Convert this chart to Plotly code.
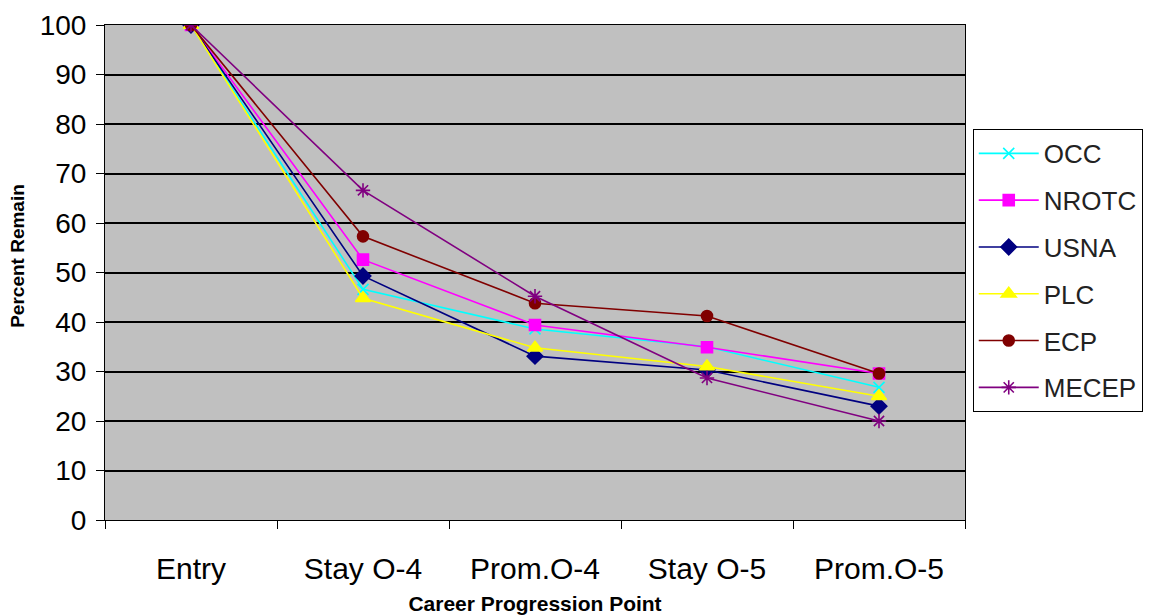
import plotly.graph_objects as go

categories = ["Entry", "Stay O-4", "Prom.O-4", "Stay O-5", "Prom.O-5"]
occ = [100, 46.6, 38.6, 35.0, 26.8]
nrotc = [100, 52.6, 39.4, 34.9, 29.6]
usna = [100, 49.3, 33.1, 30.3, 23.0]
plc = [100, 44.8, 34.8, 31.0, 25.0]
ecp = [100, 57.3, 43.8, 41.2, 29.6]
mecep = [100, 66.6, 45.2, 28.7, 20.0]

series = [
    ("OCC", occ, "#00FFFF", "x-thin-open", 11),
    ("NROTC", nrotc, "#FF00FF", "square", 11),
    ("USNA", usna, "#000080", "diamond", 12),
    ("PLC", plc, "#FFFF00", "triangle-up", 13),
    ("ECP", ecp, "#800000", "circle", 11),
    ("MECEP", mecep, "#800080", "asterisk-open", 12),
]

fig = go.Figure()
for name, vals, color, sym, size in series:
    fig.add_trace(go.Scatter(
        x=categories, y=vals, name=name, mode="lines+markers",
        legendgroup=name,
        line=dict(color=color, width=1.6),
        marker=dict(symbol=sym, size=size, color=color,
                    line=dict(color=color, width=1.6)),
    ))

fig.update_layout(
    width=1156, height=615,
    margin=dict(l=97, r=199, t=17, b=103, autoexpand=False),
    paper_bgcolor="white",
    plot_bgcolor="#C0C0C0",
    font=dict(family="Liberation Sans, Arial, sans-serif", color="black"),
    showlegend=True,
    legend=dict(
        x=1.009, y=0.79, xanchor="left", yanchor="top",
        bgcolor="white", bordercolor="black", borderwidth=1,
        font=dict(size=26, color="#222222"),
        tracegroupgap=10,
        itemwidth=60,
    ),
    xaxis=dict(
        type="category",
        range=[-0.5, 4.5],
        tickson="boundaries",
        ticks="outside", ticklen=8, tickcolor="black",
        showline=True, linecolor="black", linewidth=1, mirror=True,
        showgrid=False, automargin=False,
        tickfont=dict(size=30),
        ticklabelstandoff=22,
        title=dict(text="<b>Career Progression Point</b>", font=dict(size=21), standoff=12),
    ),
    yaxis=dict(
        range=[0, 100], dtick=10,
        ticks="outside", ticklen=8, tickcolor="black",
        showline=True, linecolor="black", linewidth=1, mirror=True,
        showgrid=True, gridcolor="black", gridwidth=1.5,
        zeroline=False, automargin=False,
        tickfont=dict(size=28),
        ticklabelstandoff=4,
    ),
    annotations=[dict(
        text="<b>Percent Remain</b>", textangle=-90,
        xref="paper", yref="paper", x=-0.101, y=0.534,
        xanchor="center", yanchor="middle", showarrow=False,
        font=dict(size=19, color="black"),
    )],
)

fig.write_html("out.html")
